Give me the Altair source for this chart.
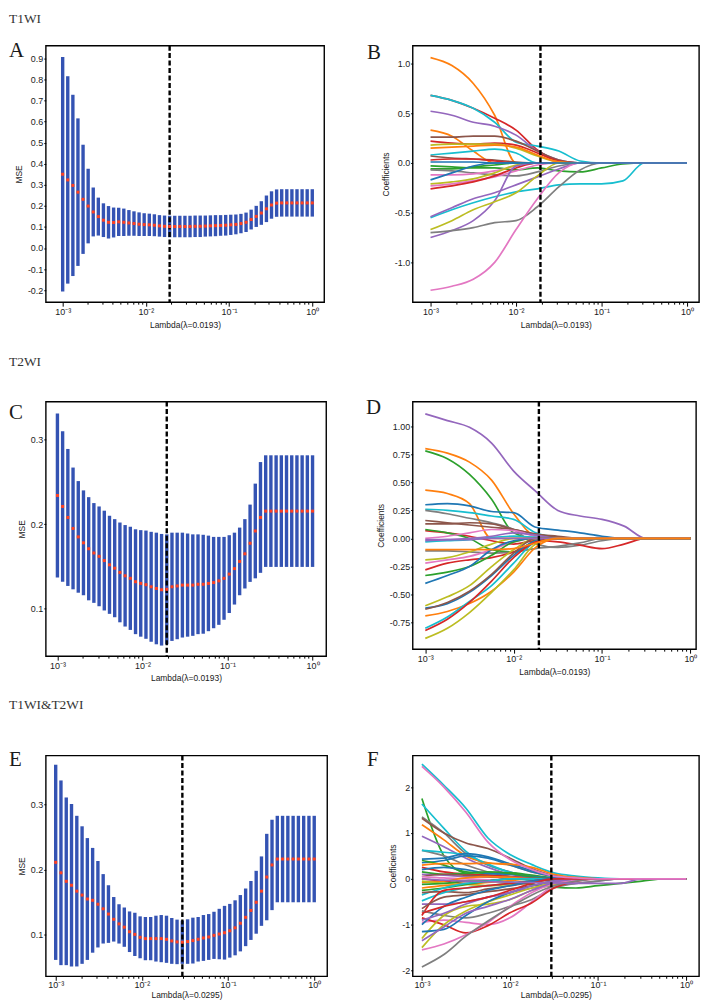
import altair as alt
import pandas as pd

# ---------------- data ----------------
LAMBDAS = [0.001, 0.001151, 0.001326, 0.001526, 0.001758, 0.002024, 0.002330, 0.002683, 0.003089, 0.003556,
           0.004095, 0.004715, 0.005429, 0.006251, 0.007197, 0.008287, 0.009541, 0.01099, 0.01265, 0.01456,
           0.01677, 0.01931, 0.02223, 0.02560, 0.02947, 0.03393, 0.03907, 0.04498, 0.05179, 0.05964,
           0.06866, 0.07906, 0.09103, 0.1048, 0.1207, 0.1389, 0.1600, 0.1842, 0.2121, 0.2442,
           0.2812, 0.3237, 0.3728, 0.4292, 0.4942, 0.5690, 0.6551, 0.7543, 0.8685, 1.0]

A_MEAN = [0.350, 0.323, 0.297, 0.265, 0.231, 0.199, 0.171, 0.149, 0.132, 0.122,
          0.121, 0.124, 0.122, 0.119, 0.116, 0.113, 0.111, 0.110, 0.108, 0.105,
          0.103, 0.102, 0.102, 0.102, 0.102, 0.102, 0.103, 0.103, 0.104, 0.105,
          0.106, 0.107, 0.108, 0.110, 0.112, 0.116, 0.122, 0.135, 0.150, 0.166,
          0.186, 0.204, 0.213, 0.214, 0.214, 0.214, 0.214, 0.214, 0.214, 0.214]
A_SD = [0.556, 0.492, 0.430, 0.350, 0.259, 0.177, 0.116, 0.090, 0.080, 0.077,
        0.071, 0.067, 0.065, 0.061, 0.058, 0.056, 0.054, 0.053, 0.052, 0.051,
        0.051, 0.051, 0.051, 0.051, 0.051, 0.051, 0.051, 0.051, 0.050, 0.050,
        0.050, 0.049, 0.049, 0.048, 0.047, 0.046, 0.046, 0.047, 0.050, 0.056,
        0.063, 0.065, 0.065, 0.065, 0.065, 0.065, 0.065, 0.065, 0.065, 0.065]

C_MEAN = [0.234, 0.221, 0.208, 0.195, 0.185, 0.178, 0.171, 0.166, 0.162, 0.157,
          0.152, 0.148, 0.143, 0.139, 0.136, 0.132, 0.130, 0.1285, 0.126, 0.124,
          0.1225, 0.123, 0.126, 0.127, 0.128, 0.128, 0.128, 0.129, 0.129, 0.130,
          0.131, 0.133, 0.136, 0.141, 0.1475, 0.156, 0.165, 0.1775, 0.192, 0.208,
          0.2155, 0.2155, 0.2155, 0.2155, 0.2155, 0.2155, 0.2155, 0.2155, 0.2155, 0.2155]
C_SD = [0.097, 0.089, 0.081, 0.072, 0.066, 0.062, 0.061, 0.059, 0.059, 0.059,
        0.058, 0.058, 0.059, 0.060, 0.061, 0.062, 0.063, 0.064, 0.065, 0.066,
        0.066, 0.065, 0.064, 0.063, 0.062, 0.061, 0.060, 0.059, 0.0585, 0.0565,
        0.054, 0.052, 0.049, 0.046, 0.0425, 0.040, 0.041, 0.0457, 0.056, 0.0655,
        0.066, 0.066, 0.066, 0.066, 0.066, 0.066, 0.066, 0.066, 0.066, 0.066]

E_MEAN = [0.211, 0.195, 0.182, 0.176, 0.167, 0.161, 0.155, 0.153, 0.147, 0.140,
          0.132, 0.124, 0.117, 0.112, 0.105, 0.101, 0.0965, 0.0945, 0.0945, 0.0945,
          0.0945, 0.0935, 0.091, 0.0895, 0.089, 0.090, 0.0915, 0.0935, 0.0955, 0.097,
          0.0995, 0.1015, 0.1035, 0.1065, 0.111, 0.118, 0.127, 0.1375, 0.150, 0.167,
          0.1885, 0.207, 0.216, 0.216, 0.216, 0.216, 0.216, 0.216, 0.216, 0.216]
E_SD = [0.149, 0.141, 0.128, 0.124, 0.115, 0.105, 0.093, 0.080, 0.066, 0.053,
        0.044, 0.034, 0.030, 0.030, 0.031, 0.033, 0.032, 0.033, 0.033, 0.035,
        0.036, 0.036, 0.035, 0.034, 0.033, 0.034, 0.035, 0.034, 0.035, 0.035,
        0.036, 0.0385, 0.041, 0.041, 0.042, 0.043, 0.044, 0.045, 0.048, 0.053,
        0.066, 0.069, 0.066, 0.066, 0.066, 0.066, 0.066, 0.066, 0.066, 0.066]

# coefficient paths, read at these lambdas (trailing values not listed are 0)
KNOT_LAMBDAS = [0.001, 0.001778, 0.003162, 0.005623, 0.01, 0.01778, 0.03162,
                0.05623, 0.1, 0.1778, 0.3162, 0.5623, 1.0]

B_PATHS = [
    [1.06, 0.98, 0.80, 0.48, 0.0],
    [0.68, 0.63, 0.55, 0.45, 0.33, 0.13, 0.02, 0.0],
    [0.68, 0.63, 0.55, 0.41, 0.21, 0.17, 0.12, 0.02, 0.0],
    [0.52, 0.48, 0.41, 0.37, 0.28, 0.12, 0.03, 0.0],
    [0.33, 0.27, 0.12, 0.0],
    [0.26, 0.26, 0.27, 0.27, 0.22, 0.12, 0.03, 0.0],
    [0.22, 0.20, 0.19, 0.20, 0.18, 0.10, 0.02, 0.0],
    [0.18, 0.19, 0.19, 0.19, 0.15, 0.07, 0.01, 0.0],
    [0.15, 0.16, 0.17, 0.18, 0.16, 0.08, 0.01, 0.0],
    [0.08, 0.10, 0.12, 0.14, 0.10, 0.0],
    [0.07, 0.05, 0.04, 0.03, 0.01, 0.0],
    [0.03, 0.04, 0.04, 0.02, 0.0],
    [-0.03, -0.04, -0.05, -0.05, -0.07, -0.05, -0.08, -0.09, -0.05, -0.01, 0.0],
    [-0.06, -0.06, -0.04, -0.02, 0.0],
    [-0.07, -0.08, -0.10, -0.12, -0.13, -0.09, -0.03, 0.0],
    [-0.12, -0.12, -0.11, -0.08, -0.03, 0.0],
    [-0.17, -0.10, -0.03, 0.0],
    [-0.21, -0.19, -0.16, -0.10, -0.02, 0.0],
    [-0.23, -0.21, -0.18, -0.14, -0.08, -0.02, 0.0],
    [-0.26, -0.23, -0.19, -0.13, -0.05, 0.0],
    [-0.55, -0.47, -0.40, -0.34, -0.29, -0.26, -0.22, -0.21, -0.21, -0.18, 0.0],
    [-0.54, -0.45, -0.36, -0.30, -0.22, -0.14, -0.06, 0.0],
    [-0.75, -0.68, -0.58, -0.38, -0.03, 0.0],
    [-0.67, -0.58, -0.47, -0.39, -0.30, -0.13, 0.0],
    [-0.70, -0.68, -0.65, -0.60, -0.58, -0.44, -0.24, -0.07, 0.0],
    [-1.28, -1.24, -1.17, -1.00, -0.67, -0.36, -0.10, 0.0],
    [0.01, 0.01, 0.01, 0.0],
]
B_COLORS = [1, 3, 9, 4, 1, 5, 3, 8, 1, 9, 5, 3, 2, 2, 7, 6, 0, 8, 6, 3, 9, 4, 4, 8, 7, 6, 0]

D_PATHS = [
    [1.11, 1.05, 0.99, 0.85, 0.60, 0.42, 0.25, 0.20, 0.17, 0.11, 0.0],
    [0.80, 0.76, 0.68, 0.52, 0.22, 0.02, 0.0],
    [0.78, 0.71, 0.57, 0.35, 0.05, 0.0],
    [0.43, 0.40, 0.31, 0.0],
    [0.30, 0.31, 0.29, 0.24, 0.23, 0.10, 0.075, 0.05, 0.02, 0.0],
    [0.26, 0.25, 0.23, 0.20, 0.17, 0.05, 0.01, 0.0],
    [0.25, 0.22, 0.18, 0.14, 0.08, -0.05, -0.08, -0.06, -0.02, 0.0],
    [0.16, 0.14, 0.12, 0.10, 0.08, 0.04, 0.02, 0.0],
    [0.13, 0.13, 0.14, 0.13, 0.08, 0.04, 0.01, 0.0],
    [0.07, 0.05, 0.02, -0.02, -0.05, -0.02, -0.03, -0.06, -0.09, -0.05, 0.0],
    [0.08, 0.05, 0.0, -0.10, -0.12, -0.02, 0.0],
    [0.0, 0.02, 0.05, 0.08, 0.07, 0.02, 0.0],
    [-0.03, -0.02, -0.01, 0.01, 0.02, 0.01, 0.0],
    [-0.02, -0.01, 0.0, 0.02, 0.05, 0.03, 0.0],
    [-0.11, -0.11, -0.12, -0.13, -0.12, -0.09, -0.07, -0.04, 0.0],
    [-0.19, -0.17, -0.12, -0.05, 0.0],
    [-0.22, -0.19, -0.16, -0.10, -0.03, 0.0],
    [-0.28, -0.22, -0.19, -0.17, -0.12, -0.03, 0.0],
    [-0.33, -0.30, -0.25, -0.15, -0.03, 0.0],
    [-0.40, -0.33, -0.25, -0.10, -0.02, 0.0],
    [-0.60, -0.52, -0.42, -0.25, -0.10, 0.0],
    [-0.62, -0.58, -0.48, -0.33, -0.15, -0.02, 0.0],
    [-0.63, -0.57, -0.47, -0.32, -0.13, 0.0],
    [-0.69, -0.65, -0.58, -0.47, -0.30, -0.08, 0.0],
    [-0.80, -0.70, -0.56, -0.42, -0.22, -0.03, 0.0],
    [-0.82, -0.72, -0.57, -0.38, -0.17, -0.03, 0.0],
    [-0.89, -0.80, -0.66, -0.48, -0.28, -0.05, 0.0],
    [-0.01, -0.01, -0.01, 0.0],
    [-0.10, -0.10, -0.10, -0.10, -0.09, -0.04, 0.0],
]
D_COLORS = [4, 1, 2, 1, 0, 9, 7, 5, 5, 3, 2, 6, 9, 4, 7, 8, 6, 3, 2, 0, 8, 0, 5, 1, 9, 3, 8, 4, 1]

F_PATHS = [
    [2.50, 2.04, 1.54, 0.89, 0.53, 0.31, 0.13, 0.06, 0.02, 0.0],
    [1.75, 0.50, 0.12, 0.08, 0.05, 0.02, 0.0],
    [1.63, 1.10, 0.60, 0.30, 0.15, 0.05, 0.0],
    [1.35, 1.00, 0.55, 0.30, 0.15, 0.05, 0.0],
    [1.32, 1.00, 0.78, 0.66, 0.45, 0.22, 0.07, 0.02, 0.0],
    [1.18, 0.85, 0.50, 0.35, 0.30, 0.15, 0.05, 0.0],
    [0.93, 0.70, 0.45, 0.25, 0.10, 0.03, 0.0],
    [0.62, 0.50, 0.30, 0.15, 0.05, 0.0],
    [0.62, 0.58, 0.52, 0.32, 0.14, 0.04, 0.0],
    [0.43, 0.45, 0.55, 0.48, 0.33, 0.18, 0.06, 0.02, 0.0],
    [0.35, 0.40, 0.50, 0.45, 0.30, 0.15, 0.05, 0.0],
    [0.40, 0.30, 0.15, 0.12, 0.13, 0.08, 0.02, 0.0],
    [0.30, 0.33, 0.33, 0.34, 0.32, 0.25, 0.10, 0.03, 0.0],
    [0.25, 0.15, 0.10, 0.08, 0.05, 0.02, 0.0],
    [0.20, 0.25, 0.20, 0.12, 0.10, 0.05, 0.02, 0.0],
    [0.15, 0.10, 0.12, 0.15, 0.12, 0.04, 0.0],
    [0.10, 0.08, 0.05, 0.04, 0.03, 0.01, 0.0],
    [0.05, 0.10, 0.08, 0.05, 0.03, 0.01, 0.0],
    [0.05, 0.02, 0.0, -0.02, 0.0],
    [0.0, -0.05, -0.10, -0.05, 0.0],
    [-0.08, -0.05, 0.02, 0.05, 0.03, 0.0],
    [-0.05, -0.10, -0.12, -0.15, -0.12, -0.06, -0.02, 0.0],
    [-0.12, -0.10, -0.05, -0.05, -0.07, -0.12, -0.18, -0.20, -0.15, -0.10, -0.05, 0.0],
    [-0.20, -0.15, -0.12, -0.08, -0.04, 0.0],
    [-0.25, -0.20, -0.12, -0.05, 0.0],
    [-0.35, -0.20, -0.10, -0.05, 0.0],
    [-0.30, -0.28, -0.30, -0.22, -0.15, -0.08, -0.02, 0.0],
    [-0.48, -0.30, -0.20, -0.15, -0.10, -0.03, 0.0],
    [-0.55, -0.55, -0.50, -0.40, -0.30, -0.20, -0.15, -0.10, -0.05, 0.0],
    [-0.80, -0.25, -0.20, -0.15, -0.10, -0.05, 0.0],
    [-0.65, -0.40, -0.35, -0.28, -0.22, -0.15, -0.05, 0.0],
    [-0.70, -0.80, -0.85, -0.75, -0.60, -0.45, -0.20, -0.10, -0.05, 0.0],
    [-0.95, -0.90, -0.95, -1.00, -0.85, -0.50, -0.15, -0.05, 0.0],
    [-0.85, -1.00, -1.18, -1.02, -0.74, -0.52, -0.20, -0.05, 0.0],
    [-1.30, -0.80, -0.60, -0.55, -0.45, -0.25, -0.12, -0.03, 0.0],
    [-1.50, -1.00, -0.70, -0.50, -0.35, -0.20, -0.08, 0.0],
    [-1.55, -1.42, -1.22, -0.95, -0.60, -0.30, -0.10, -0.03, 0.0],
    [-1.92, -1.65, -1.25, -0.92, -0.62, -0.35, -0.15, -0.05, 0.0],
    [-1.15, -1.10, -0.80, -0.50, -0.30, -0.15, -0.05, 0.0],
    [-1.00, -0.60, -0.40, -0.25, -0.15, -0.05, 0.0],
    [-1.35, -1.05, -0.75, -0.60, -0.45, -0.25, -0.08, 0.0],
    [-0.90, -0.75, -0.55, -0.40, -0.30, -0.15, -0.05, 0.0],
    [-0.75, -0.60, -0.50, -0.40, -0.25, -0.10, 0.0],
    [0.0, -0.03, -0.05, -0.06, -0.07, -0.08, -0.09, -0.10, -0.10, -0.10, 0.0],
    [2.45, 2.00, 1.45, 0.80, 0.42, 0.20, 0.06, 0.02, 0.0],
]
F_COLORS = [9, 2, 9, 7, 5, 1, 4, 7, 9, 0, 0, 2, 1, 3, 0, 2, 4, 5, 6, 3, 1, 8, 2, 1, 2,
            9, 5, 9, 4, 3, 5, 7, 6, 3, 8, 8, 6, 7, 0, 0, 4, 4, 3, 4, 6]

# ---------------- styling ----------------
TAB10 = ["#1f77b4", "#ff7f0e", "#2ca02c", "#d62728", "#9467bd",
         "#8c564b", "#e377c2", "#7f7f7f", "#bcbd22", "#17becf"]
BAR_BLUE = "#3453b3"
DOT_RED = "#ff4020"
SANS = "Liberation Sans"
SERIF = "Liberation Serif"
TXT = "#1a1a1a"

XTICKS = [round(m * 10 ** e, 6) for e in (-3, -2, -1) for m in range(1, 10)] + [1.0]
DECADE_TEST = "abs(log(datum.value)/LN10 - round(log(datum.value)/LN10)) < 0.001"
LABEL_EXPR = ("datum.value < 0.0015 ? '10⁻³' : "
              "(datum.value > 0.0095 && datum.value < 0.0105) ? '10⁻²' : "
              "(datum.value > 0.095 && datum.value < 0.105) ? '10⁻¹' : "
              "(datum.value > 0.95) ? '10⁰' : ''")


def x_enc(field, dom_exp, title, label_pad=1, title_pad=4):
    return alt.X(
        field,
        scale=alt.Scale(type="log", domain=[10 ** dom_exp[0], 10 ** dom_exp[1]], nice=False),
        axis=alt.Axis(
            title=title, values=XTICKS, labelExpr=LABEL_EXPR,
            tickSize={"condition": {"test": DECADE_TEST, "value": 4}, "value": 2},
            labelOverlap=False, labelFlush=False, grid=False, domain=False,
            tickColor="black", labelFont=SANS, titleFont=SANS, labelFontSize=9,
            titleFontSize=8.5, titleFontWeight="normal", labelColor=TXT, titleColor=TXT,
            labelPadding=label_pad, titlePadding=title_pad,
        ),
    )


def y_enc(field, ydom, title, values, fmt):
    return alt.Y(
        field,
        scale=alt.Scale(domain=ydom, nice=False, zero=False),
        axis=alt.Axis(
            title=title, values=values,
            labelExpr=f"replace(format(datum.value, '{fmt}'), '\u2212', '-')",
            grid=False, domain=False, tickSize=2, tickColor="black", labelOverlap=False,
            labelFont=SANS, titleFont=SANS, labelFontSize=9, titleFontSize=8.5,
            titleFontWeight="normal", labelColor=TXT, titleColor=TXT, labelPadding=1,
            titlePadding=4,
        ),
    )


def texts(letter, lxy, section=None, sy=None):
    layers = [alt.Chart(pd.DataFrame({"t": [letter]})).mark_text(
        align="left", baseline="alphabetic", font=SERIF, fontSize=21, color=TXT
    ).encode(text="t:N", x=alt.value(lxy[0]), y=alt.value(lxy[1]))]
    if section:
        layers.append(alt.Chart(pd.DataFrame({"t": [section]})).mark_text(
            align="left", baseline="top", font=SERIF, fontSize=13.5, color="#333"
        ).encode(text="t:N", x=alt.value(lxy[0]), y=alt.value(sy)))
    return layers


def mse_panel(mean, sd, lam_min, xdom, ydom, yvals, fmt, w, h, letter, lxy,
              section=None, sy=None, label_pad=1, title_pad=4):
    df = pd.DataFrame({"lam": LAMBDAS, "mse": mean, "sd": sd})
    xt = f"Lambda(λ={lam_min})"
    base = alt.Chart(df).transform_calculate(
        lo="datum.mse - datum.sd", hi="datum.mse + datum.sd")
    bars = base.mark_rule(color=BAR_BLUE, strokeWidth=3.4, strokeCap="butt").encode(
        x=x_enc("lam:Q", xdom, xt, label_pad, title_pad),
        y=y_enc("lo:Q", ydom, "MSE", yvals, fmt),
        y2="hi:Q",
    )
    vl = alt.Chart(pd.DataFrame({"lam": [lam_min]})).mark_rule(
        color="black", strokeWidth=2.4, strokeDash=[5, 2.5]
    ).encode(x=x_enc("lam:Q", xdom, xt, label_pad, title_pad))
    dots = base.mark_square(color=DOT_RED, size=9, opacity=1).encode(
        x=x_enc("lam:Q", xdom, xt, label_pad, title_pad),
        y=y_enc("mse:Q", ydom, "MSE", yvals, fmt),
    )
    return alt.layer(bars, vl, dots, *texts(letter, lxy, section, sy)).properties(
        width=w, height=h)


def coef_panel(tag, paths, colors, lam_min, xdom, ydom, yvals, fmt, w, h, letter, lxy,
               label_pad=1, title_pad=4):
    rows = []
    names, cols = [], []
    for k, p in enumerate(paths):
        name = f"{tag}{k:03d}"
        names.append(name)
        cols.append(TAB10[colors[k]])
        full = list(p) + [0.0] * (len(KNOT_LAMBDAS) - len(p))
        for lam, v in zip(KNOT_LAMBDAS, full):
            rows.append({"lam": lam, "coef": v, "series": name})
    df = pd.DataFrame(rows)
    xt = f"Lambda(λ={lam_min})"
    lines = alt.Chart(df).mark_line(interpolate="monotone", strokeWidth=1.7, clip=True).encode(
        x=x_enc("lam:Q", xdom, xt, label_pad, title_pad),
        y=y_enc("coef:Q", ydom, "Coefficients", yvals, fmt),
        color=alt.Color("series:N", scale=alt.Scale(domain=names, range=cols), legend=None),
        detail="series:N",
    )
    vl = alt.Chart(pd.DataFrame({"lam": [lam_min]})).mark_rule(
        color="black", strokeWidth=2.4, strokeDash=[5, 2.5]
    ).encode(x=x_enc("lam:Q", xdom, xt, label_pad, title_pad))
    return alt.layer(lines, vl, *texts(letter, lxy)).properties(width=w, height=h)


pA = mse_panel(A_MEAN, A_SD, 0.0193, (-3.203, 0.143), [-0.257, 0.96],
               [-0.2, -0.1, 0.0, 0.1, 0.2, 0.3, 0.4, 0.5, 0.6, 0.7, 0.8, 0.9], ".1f",
               280, 258, "A", (-37, 11), "T1WI", -34)
pB = coef_panel("B", B_PATHS, B_COLORS, 0.0193, (-3.209, 0.14), [-1.40, 1.18],
                [-1.0, -0.5, 0.0, 0.5, 1.0], ".1f", 288, 258, "B", (-46, 13))
pC = mse_panel(C_MEAN, C_SD, 0.0193, (-3.137, 0.16), [0.044, 0.345],
               [0.1, 0.2, 0.3], ".1f", 282, 256, "C", (-37, 17), "T2WI", -47)
pD = coef_panel("D", D_PATHS, D_COLORS, 0.0193, (-3.143, 0.064), [-0.986, 1.219],
                [-0.75, -0.5, -0.25, 0.0, 0.25, 0.5, 0.75, 1.0], ".2f", 285, 249, "D", (-47, 12))
pE = mse_panel(E_MEAN, E_SD, 0.0295, (-3.115, 0.15), [0.037, 0.374],
               [0.1, 0.2, 0.3], ".1f", 283, 222, "E", (-37, 11), "T1WI&T2WI", -58,
               label_pad=0, title_pad=1)
pF = coef_panel("F", F_PATHS, F_COLORS, 0.0295, (-3.105, 0.147), [-2.124, 2.687],
                [-2, -1, 0, 1, 2], "d", 288, 222, "F", (-46, 11), label_pad=0, title_pad=1)

chart = alt.concat(
    pA, pB, pC, pD, pE, pF, columns=2, spacing={"row": 100, "column": 86},
    bounds="flush", align="each",
).resolve_scale(color="independent").properties(
    padding=0, background="white"
).configure_view(stroke="black", strokeWidth=1.4)

chart.save("out.html", embed_options={"renderer": "svg", "actions": False})
